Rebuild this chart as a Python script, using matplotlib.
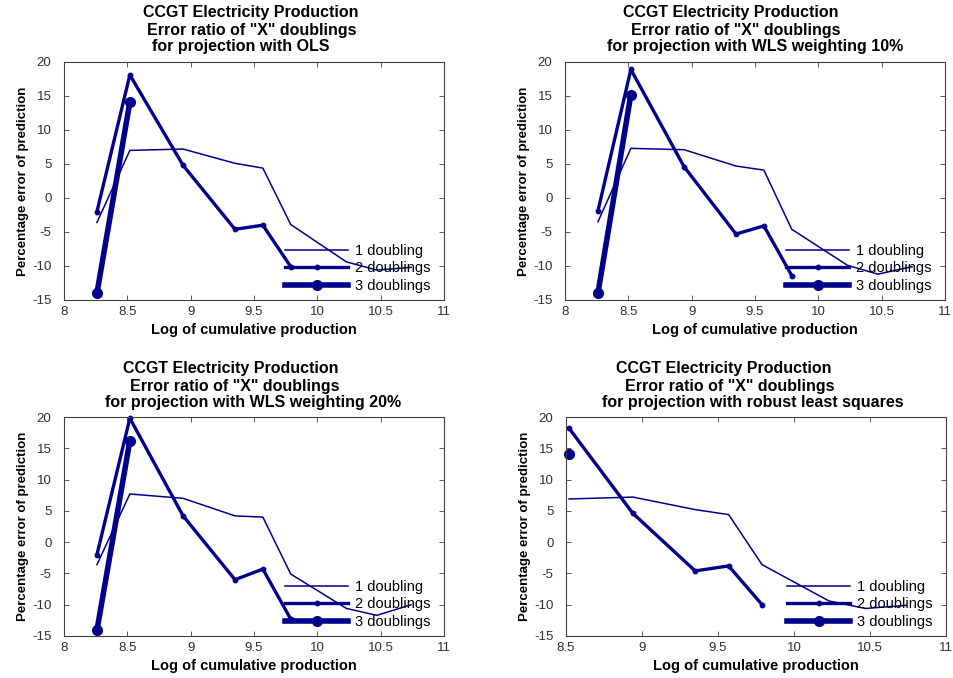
import matplotlib.pyplot as plt
from matplotlib.ticker import FuncFormatter

plt.rcParams.update({"font.family": ["Liberation Sans", "DejaVu Sans"],
                     "axes.unicode_minus": False})

# log of cumulative production at each point
log_prod = [8.26, 8.52, 8.94, 9.35, 9.57, 9.79, 10.23, 10.47, 10.74]

# percentage error of prediction, per method and number of doublings
ols_1 = [-3.6, 7.0, 7.2, 5.1, 4.4, -3.9, -9.4, -10.6, -10.2]
ols_2 = [-2.0, 18.1, 4.8, -4.6, -4.0, -10.1]
ols_3 = [-14.0, 14.1]

wls10_1 = [-3.5, 7.3, 7.1, 4.7, 4.1, -4.6, -9.9, -11.2, -10.1]
wls10_2 = [-1.9, 18.9, 4.6, -5.3, -4.1, -11.4]
wls10_3 = [-14.0, 15.2]

wls20_1 = [-3.6, 7.7, 7.0, 4.2, 4.0, -5.1, -10.6, -11.7, -10.0]
wls20_2 = [-2.0, 19.8, 4.2, -6.0, -4.3, -12.3]
wls20_3 = [-14.1, 16.2]

# robust fit has no value for the first point
rob_1 = [6.9, 7.2, 5.2, 4.4, -3.6, -9.4, -10.6, -10.1]
rob_2 = [18.2, 4.6, -4.6, -3.8, -10.0]
rob_3 = [14.1]

legend_labels = ["1 doubling", "2 doublings", "3 doublings"]
title_top = "CCGT Electricity Production"
title_mid = 'Error ratio of "X" doublings'
methods = ["for projection with OLS",
           "for projection with WLS weighting 10%",
           "for projection with WLS weighting 20%",
           "for projection with robust least squares"]

NAVY = "#00008b"
W, H = 954, 678


def panel(box, x, one, two, three, xlim, titles, title_x, title_y):
    l, t, r, b = box
    ax = fig.add_axes([l / W, 1 - b / H, (r - l) / W, (b - t) / H])
    ax.plot(x[:len(one)], one, color=NAVY, lw=1.1, clip_on=False,
            label=legend_labels[0])
    ax.plot(x[:len(two)], two, color=NAVY, lw=2.4, marker="o", ms=3.2,
            clip_on=False, label=legend_labels[1])
    ax.plot(x[:len(three)], three, color=NAVY, lw=4.0, marker="o", ms=7,
            clip_on=False, label=legend_labels[2])

    ax.set_xlim(*xlim)
    ax.set_ylim(-15, 20)
    ax.set_yticks(range(-15, 21, 5))
    ax.xaxis.set_major_formatter(FuncFormatter(lambda v, p: "%g" % v))
    ax.tick_params(direction="in", top=True, right=True, length=3.5,
                   width=0.6, color="#404040", labelsize=9.5,
                   labelcolor="#303030")
    ax.tick_params(axis="x", pad=4)
    ax.tick_params(axis="y", pad=9)
    for s in ax.spines.values():
        s.set_color("#404040")
        s.set_linewidth(0.8)

    ax.set_xlabel("Log of cumulative production", fontsize=10.5,
                  fontweight="bold", labelpad=4)
    ax.set_ylabel("Percentage error of prediction", fontsize=9.5,
                  fontweight="bold", labelpad=2)

    ax.legend(loc="lower left", bbox_to_anchor=(0.582, 7 / (b - t)),
              frameon=False, fontsize=10.5, handlelength=4.3,
              handletextpad=0.5, labelspacing=0.25, borderpad=0,
              borderaxespad=0)

    for txt, cx, cy in zip(titles, title_x, title_y):
        fig.text(cx / W, 1 - cy / H, txt, ha="center", va="center",
                 fontsize=11.5, fontweight="bold")
    return ax


fig = plt.figure(figsize=(9.54, 6.78), dpi=100)

panel((64, 62, 444, 300), log_prod, ols_1, ols_2, ols_3, (8, 11),
      [title_top, title_mid, methods[0]], [251, 252, 241], [13, 30, 47])
panel((565, 62, 945, 300), log_prod, wls10_1, wls10_2, wls10_3, (8, 11),
      [title_top, title_mid, methods[1]], [731, 736, 755], [13, 30, 47])
panel((64, 417, 444, 636), log_prod, wls20_1, wls20_2, wls20_3, (8, 11),
      [title_top, title_mid, methods[2]], [231, 235, 253], [369, 386, 403])
panel((566, 417, 946, 636), log_prod[1:], rob_1, rob_2, rob_3, (8.5, 11),
      [title_top, title_mid, methods[3]], [724, 730, 753], [369, 386, 403])

fig.savefig("out.png", dpi=100)
